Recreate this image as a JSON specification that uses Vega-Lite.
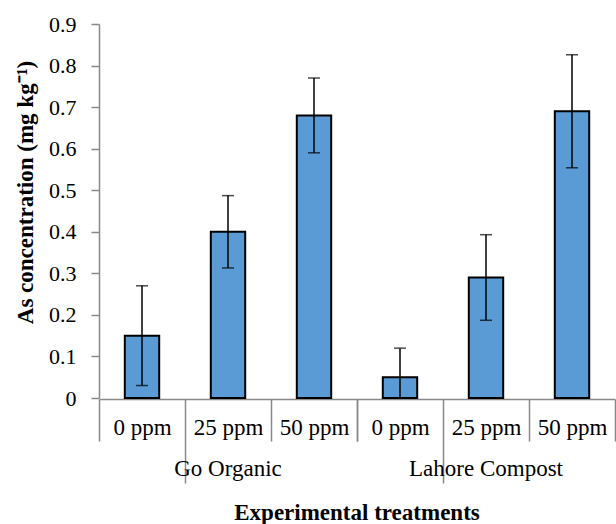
{
  "$schema": "https://vega.github.io/schema/vega-lite/v6.json",
  "padding": {"left": 14, "top": 13, "right": 1, "bottom": 0},
  "data": {"values": [
    {"group": "Go Organic", "dose": "0 ppm", "mean": 0.15, "lo": 0.03, "hi": 0.27},
    {"group": "Go Organic", "dose": "25 ppm", "mean": 0.40, "lo": 0.313, "hi": 0.487},
    {"group": "Go Organic", "dose": "50 ppm", "mean": 0.68, "lo": 0.59, "hi": 0.77},
    {"group": "Lahore Compost", "dose": "0 ppm", "mean": 0.05, "lo": -0.02, "hi": 0.12},
    {"group": "Lahore Compost", "dose": "25 ppm", "mean": 0.29, "lo": 0.187, "hi": 0.393},
    {"group": "Lahore Compost", "dose": "50 ppm", "mean": 0.69, "lo": 0.554, "hi": 0.826}
  ]},
  "spacing": 0,
  "facet": {
    "column": {
      "field": "group", "type": "nominal", "sort": ["Go Organic", "Lahore Compost"],
      "title": "Experimental treatments",
      "header": {
        "labelOrient": "bottom", "titleOrient": "bottom",
        "labelFont": "Liberation Serif", "labelFontSize": 23, "labelColor": "#000", "labelPadding": -26,
        "titleFont": "Liberation Serif", "titleFontSize": 23, "titleFontWeight": "bold", "titleColor": "#000", "titlePadding": 8
      }
    }
  },
  "spec": {
    "width": 258,
    "height": 374,
    "encoding": {
      "x": {
        "field": "dose", "type": "nominal", "sort": ["0 ppm", "25 ppm", "50 ppm"],
        "scale": {"paddingInner": 0, "paddingOuter": 0},
        "axis": {
          "title": null, "tickBand": "extent", "labelAngle": 0,
          "tickSize": {"condition": {"test": "datum.value === '0 ppm'", "value": 84}, "value": 42},
          "labelPadding": {"condition": {"test": "datum.value === '0 ppm'", "value": -67}, "value": -25},
          "labelFont": "Liberation Serif", "labelFontSize": 23, "labelColor": "#000",
          "domainColor": "#898989", "tickColor": "#898989", "domainWidth": 1.5, "tickWidth": 1.5
        }
      }
    },
    "layer": [
      {
        "mark": {"type": "bar", "width": {"band": 0.4}, "fill": "#5B9BD5", "stroke": "#000", "strokeWidth": 2},
        "encoding": {
          "y": {
            "field": "mean", "type": "quantitative", "scale": {"domain": [0, 0.9]},
            "title": "As concentration (mg kg⁻¹)",
            "axis": {
              "values": [0, 0.1, 0.2, 0.3, 0.4, 0.5, 0.6, 0.7, 0.8, 0.9], "format": "~g", "grid": false,
              "labelFont": "Liberation Serif", "labelFontSize": 22, "labelColor": "#000", "labelPadding": 15,
              "tickSize": 8, "tickColor": "#898989", "domainColor": "#898989", "domainWidth": 1.5, "tickWidth": 1.5,
              "titleFont": "Liberation Serif", "titleFontSize": 23, "titleFontWeight": "bold", "titleColor": "#000", "titlePadding": 11,
              "titleY": 168
            }
          }
        }
      },
      {
        "mark": {"type": "rule", "color": "#000", "strokeWidth": 1.5, "clip": true},
        "encoding": {
          "y": {"field": "lo", "type": "quantitative", "title": "As concentration (mg kg⁻¹)"},
          "y2": {"field": "hi"}
        }
      },
      {
        "mark": {"type": "tick", "color": "#000", "size": 12, "thickness": 1.5, "clip": true},
        "encoding": {"y": {"field": "lo", "type": "quantitative", "title": "As concentration (mg kg⁻¹)"}}
      },
      {
        "mark": {"type": "tick", "color": "#000", "size": 12, "thickness": 1.5, "clip": true},
        "encoding": {"y": {"field": "hi", "type": "quantitative", "title": "As concentration (mg kg⁻¹)"}}
      }
    ]
  },
  "config": {"view": {"stroke": null}, "font": "Liberation Serif"}
}
